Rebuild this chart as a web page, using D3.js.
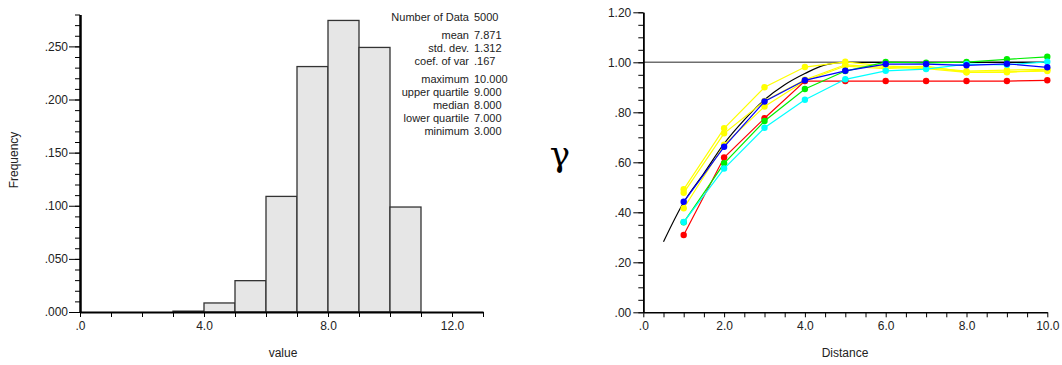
<!DOCTYPE html>
<html>
<head>
<meta charset="utf-8">
<script src="https://cdn.jsdelivr.net/npm/d3@7"></script>
<style>
  body { margin: 0; background: #fff; }
  svg { display: block; font-family: "Liberation Sans", Arial, sans-serif; }
</style>
</head>
<body>
<svg id="chart" width="1062" height="365"></svg>
<script>
// histogram data: bins of width 1
const binStart = [0, 1, 2, 3, 4, 5, 6, 7, 8, 9, 10];
const binFreq  = [0, 0, 0, 0.0008, 0.0085, 0.0295, 0.1088, 0.231, 0.2744, 0.249, 0.0988];

const statLabels = ['Number of Data', 'mean', 'std. dev.', 'coef. of var', 'maximum', 'upper quartile', 'median', 'lower quartile', 'minimum'];
const statValues = ['5000', '7.871', '1.312', '.167', '10.000', '9.000', '8.000', '7.000', '3.000'];

// variogram data
const lags = [1, 2, 3, 4, 5, 6, 7, 8, 9, 10];
const yellow1 = [0.492, 0.736, 0.900, 0.981, 1.002, 0.985, 0.980, 0.965, 0.969, 0.972];
const yellow2 = [0.478, 0.716, 0.845, 0.930, 0.990, 0.980, 0.975, 0.960, 0.962, 0.965];
const yellow3 = [0.416, 0.670, 0.823, 0.925, 0.985, 0.975, 0.985, 0.960, 0.960, 0.970];
const redVals   = [0.309, 0.619, 0.776, 0.925, 0.925, 0.925, 0.925, 0.925, 0.925, 0.928];
const greenVals = [0.360, 0.596, 0.765, 0.893, 0.965, 1.001, 0.998, 1.001, 1.012, 1.022];
const cyanVals  = [0.361, 0.575, 0.738, 0.850, 0.932, 0.966, 0.973, 0.993, 0.990, 1.002];
const blueVals  = [0.442, 0.662, 0.843, 0.928, 0.966, 0.993, 0.993, 0.988, 0.994, 0.980];

// model curve
const modelH = [0.5, 1.0, 1.5, 2.0, 2.5, 3.0, 3.5, 4.0, 4.5, 5.0, 10.0];
const modelG = [0.282, 0.440, 0.556, 0.675, 0.770, 0.850, 0.910, 0.955, 0.990, 1.0, 1.0];

const series = [
  { color: '#ffff00', vals: yellow1 },
  { color: '#ffff00', vals: yellow2 },
  { color: '#ffff00', vals: yellow3 },
  { color: '#ff0000', vals: redVals },
  { color: '#00ee00', vals: greenVals },
  { color: '#00ffff', vals: cyanVals },
  { color: '#0000ff', vals: blueVals }
];

const svg = d3.select('#chart');
const txt = '#222';
const stripZero = s => s.replace(/^0\./, '.').replace(/^-0\./, '-.');

function styleAxis(g, w) {
  g.selectAll('path.domain').attr('stroke', '#000').attr('stroke-width', w);
  g.selectAll('line').attr('stroke', '#000').attr('stroke-width', 1);
  g.selectAll('text').attr('fill', txt).style('font-size', '12px');
}

// ---------- histogram ----------
const hx = d3.scaleLinear().domain([0, 13]).range([80, 483]);
const hy = d3.scaleLinear().domain([0, 0.28]).range([312, 14.5]);

const hist = svg.append('g');

hist.selectAll('rect.bar')
  .data(binStart.map((s, i) => ({ s, f: binFreq[i] })).filter(d => d.f > 0))
  .enter().append('rect')
  .attr('class', 'bar')
  .attr('x', d => hx(d.s))
  .attr('width', d => hx(d.s + 1) - hx(d.s))
  .attr('y', d => hy(d.f))
  .attr('height', d => hy(0) - hy(d.f))
  .attr('fill', '#e6e6e6')
  .attr('stroke', '#333')
  .attr('stroke-width', 1.3);

// y axis: minor ticks every .01, major labelled every .05
const hyMinor = d3.range(0, 29).map(i => i / 100);
const hyMajor = d3.range(0, 6).map(i => i * 0.05);
hist.append('g').attr('transform', `translate(${hx(0)},0)`)
  .call(d3.axisLeft(hy).tickValues(hyMinor).tickSize(5).tickSizeOuter(0).tickFormat(''))
  .call(g => styleAxis(g, 2));
hist.append('g').attr('transform', `translate(${hx(0)},0)`)
  .call(d3.axisLeft(hy).tickValues(hyMajor).tickSize(11).tickSizeOuter(0).tickPadding(1)
    .tickFormat(d => stripZero(d3.format('.3f')(d))))
  .call(g => styleAxis(g, 2));

// x axis: ticks every 1, labels every 4
hist.append('g').attr('transform', `translate(0,${hy(0)})`)
  .call(d3.axisBottom(hx).tickValues(d3.range(0, 14)).tickSize(5).tickSizeOuter(0).tickPadding(4)
    .tickFormat(d => d % 4 === 0 ? stripZero(d3.format('.1f')(d)) : ''))
  .call(g => styleAxis(g, 2));

hist.append('text')
  .attr('transform', 'translate(15,160) rotate(-90)')
  .attr('text-anchor', 'middle')
  .attr('dominant-baseline', 'middle')
  .attr('fill', txt).style('font-size', '12px')
  .text('Frequency');

hist.append('text')
  .attr('x', 283).attr('y', 357)
  .attr('text-anchor', 'middle')
  .attr('fill', txt).style('font-size', '12px')
  .text('value');

// statistics block
const statY = [18, 36, 49, 62, 80.5, 93.5, 106.5, 119.5, 132.5];
const stats = hist.append('g').style('font-size', '11px').attr('fill', txt);
statLabels.forEach((l, i) => {
  stats.append('text').attr('x', 469).attr('y', statY[i])
    .attr('text-anchor', 'end').attr('dominant-baseline', 'middle').text(l);
  stats.append('text').attr('x', 474).attr('y', statY[i])
    .attr('dominant-baseline', 'middle').text(statValues[i]);
});

// ---------- variogram ----------
const vx = d3.scaleLinear().domain([0, 10]).range([643.3, 1047.3]);
const vy = d3.scaleLinear().domain([0, 1.2]).range([312.3, 12.3]);

const vario = svg.append('g');

// sill line
vario.append('line')
  .attr('x1', vx(0)).attr('x2', vx(10))
  .attr('y1', vy(1)).attr('y2', vy(1))
  .attr('stroke', '#6e6e6e').attr('stroke-width', 1.5);

vario.append('g').attr('transform', `translate(${vx(0)},0)`)
  .call(d3.axisLeft(vy).tickValues(d3.range(0, 25).map(i => i * 0.05)).tickSize(5).tickSizeOuter(0).tickFormat(''))
  .call(g => styleAxis(g, 1.5));
vario.append('g').attr('transform', `translate(${vx(0)},0)`)
  .call(d3.axisLeft(vy).tickValues(d3.range(0, 7).map(i => i * 0.2)).tickSize(10).tickSizeOuter(0).tickPadding(2)
    .tickFormat(d => stripZero(d3.format('.2f')(d))))
  .call(g => styleAxis(g, 1.5));
vario.append('g').attr('transform', `translate(0,${vy(0)})`)
  .call(d3.axisBottom(vx).tickValues(d3.range(0, 21).map(i => i * 0.5)).tickSize(5).tickSizeOuter(0).tickPadding(4)
    .tickFormat(d => (Math.abs(d % 2) < 1e-9) ? stripZero(d3.format('.1f')(d)) : ''))
  .call(g => styleAxis(g, 1.5));

// model curve
const modelLine = d3.line().x((d, i) => vx(modelH[i])).y(d => vy(d)).curve(d3.curveMonotoneX);
vario.append('path')
  .attr('d', modelLine(modelG))
  .attr('fill', 'none').attr('stroke', '#000').attr('stroke-width', 1.2);

const expLine = d3.line().x((d, i) => vx(lags[i])).y(d => vy(d));
series.forEach(s => {
  const g = vario.append('g');
  g.append('path').attr('d', expLine(s.vals))
    .attr('fill', 'none').attr('stroke', s.color).attr('stroke-width', 1.2);
  g.selectAll('circle').data(s.vals).enter().append('circle')
    .attr('cx', (d, i) => vx(lags[i])).attr('cy', d => vy(d))
    .attr('r', 3.2).attr('fill', s.color);
});

vario.append('text')
  .attr('x', 845).attr('y', 357)
  .attr('text-anchor', 'middle')
  .attr('fill', txt).style('font-size', '12px')
  .text('Distance');

vario.append('text')
  .attr('x', 560).attr('y', 157)
  .attr('text-anchor', 'middle')
  .attr('dominant-baseline', 'middle')
  .attr('fill', '#000')
  .style('font-family', '"DejaVu Serif", serif')
  .style('font-size', '34px')
  .text('γ');
</script>
</body>
</html>
